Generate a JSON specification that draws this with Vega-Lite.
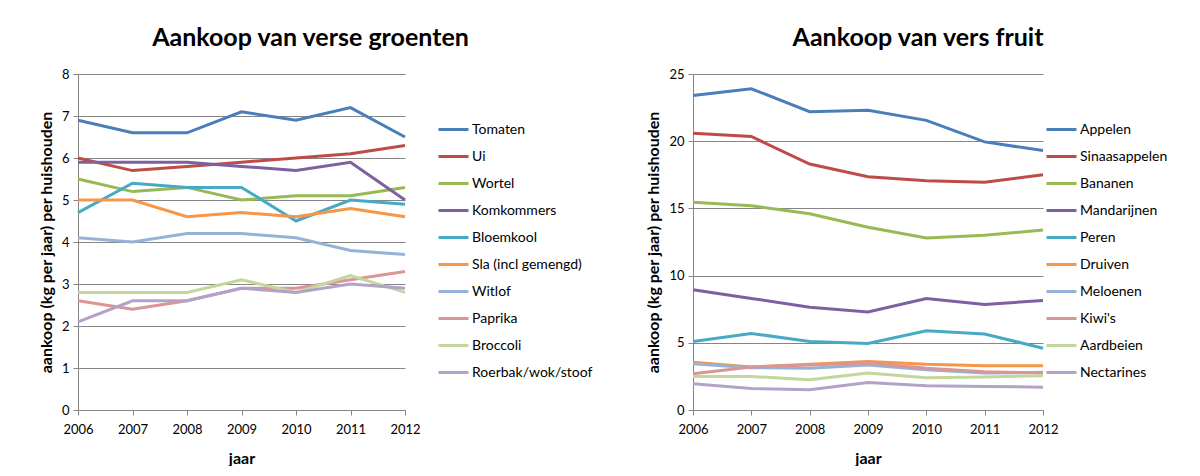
{
"$schema": "https://vega.github.io/schema/vega-lite/v6.json",
"background": "white",
"padding": {"left": 38, "top": 26, "right": 0, "bottom": 0},
"spacing": 52,
"resolve": {"scale": {"color": "independent"}},
"config": {
  "font": "Lato",
  "view": {"stroke": null},
  "axis": {"labelFont": "Lato", "labelFontSize": 13, "labelColor": "#000", "titleFont": "Lato", "titleFontSize": 16, "titleFontWeight": "bold", "titleColor": "#000", "domainColor": "#868686", "tickColor": "#868686", "gridColor": "#868686", "tickSize": 5, "labelFlush": false},
  "title": {"font": "Lato", "fontSize": 25, "fontWeight": "bold", "color": "#000", "anchor": "middle", "offset": 17},
  "legend": {"orient": "none", "labelFont": "Lato", "labelFontSize": 14, "labelColor": "#000", "symbolType": "M-1.25,0H1.25", "symbolSize": 576, "symbolStrokeWidth": 3, "rowPadding": 6, "labelOffset": 5, "padding": 0, "title": null}
},
"datasets": {
  "groente": [
    {"p":"Tomaten","jaar":2006,"kg":6.9},{"p":"Tomaten","jaar":2007,"kg":6.6},{"p":"Tomaten","jaar":2008,"kg":6.6},{"p":"Tomaten","jaar":2009,"kg":7.1},{"p":"Tomaten","jaar":2010,"kg":6.9},{"p":"Tomaten","jaar":2011,"kg":7.2},{"p":"Tomaten","jaar":2012,"kg":6.5},
    {"p":"Ui","jaar":2006,"kg":6.0},{"p":"Ui","jaar":2007,"kg":5.7},{"p":"Ui","jaar":2008,"kg":5.8},{"p":"Ui","jaar":2009,"kg":5.9},{"p":"Ui","jaar":2010,"kg":6.0},{"p":"Ui","jaar":2011,"kg":6.1},{"p":"Ui","jaar":2012,"kg":6.3},
    {"p":"Wortel","jaar":2006,"kg":5.5},{"p":"Wortel","jaar":2007,"kg":5.2},{"p":"Wortel","jaar":2008,"kg":5.3},{"p":"Wortel","jaar":2009,"kg":5.0},{"p":"Wortel","jaar":2010,"kg":5.1},{"p":"Wortel","jaar":2011,"kg":5.1},{"p":"Wortel","jaar":2012,"kg":5.3},
    {"p":"Komkommers","jaar":2006,"kg":5.9},{"p":"Komkommers","jaar":2007,"kg":5.9},{"p":"Komkommers","jaar":2008,"kg":5.9},{"p":"Komkommers","jaar":2009,"kg":5.8},{"p":"Komkommers","jaar":2010,"kg":5.7},{"p":"Komkommers","jaar":2011,"kg":5.9},{"p":"Komkommers","jaar":2012,"kg":5.0},
    {"p":"Bloemkool","jaar":2006,"kg":4.7},{"p":"Bloemkool","jaar":2007,"kg":5.4},{"p":"Bloemkool","jaar":2008,"kg":5.3},{"p":"Bloemkool","jaar":2009,"kg":5.3},{"p":"Bloemkool","jaar":2010,"kg":4.5},{"p":"Bloemkool","jaar":2011,"kg":5.0},{"p":"Bloemkool","jaar":2012,"kg":4.9},
    {"p":"Sla (incl gemengd)","jaar":2006,"kg":5.0},{"p":"Sla (incl gemengd)","jaar":2007,"kg":5.0},{"p":"Sla (incl gemengd)","jaar":2008,"kg":4.6},{"p":"Sla (incl gemengd)","jaar":2009,"kg":4.7},{"p":"Sla (incl gemengd)","jaar":2010,"kg":4.6},{"p":"Sla (incl gemengd)","jaar":2011,"kg":4.8},{"p":"Sla (incl gemengd)","jaar":2012,"kg":4.6},
    {"p":"Witlof","jaar":2006,"kg":4.1},{"p":"Witlof","jaar":2007,"kg":4.0},{"p":"Witlof","jaar":2008,"kg":4.2},{"p":"Witlof","jaar":2009,"kg":4.2},{"p":"Witlof","jaar":2010,"kg":4.1},{"p":"Witlof","jaar":2011,"kg":3.8},{"p":"Witlof","jaar":2012,"kg":3.7},
    {"p":"Paprika","jaar":2006,"kg":2.6},{"p":"Paprika","jaar":2007,"kg":2.4},{"p":"Paprika","jaar":2008,"kg":2.6},{"p":"Paprika","jaar":2009,"kg":2.9},{"p":"Paprika","jaar":2010,"kg":2.9},{"p":"Paprika","jaar":2011,"kg":3.1},{"p":"Paprika","jaar":2012,"kg":3.3},
    {"p":"Broccoli","jaar":2006,"kg":2.8},{"p":"Broccoli","jaar":2007,"kg":2.8},{"p":"Broccoli","jaar":2008,"kg":2.8},{"p":"Broccoli","jaar":2009,"kg":3.1},{"p":"Broccoli","jaar":2010,"kg":2.8},{"p":"Broccoli","jaar":2011,"kg":3.2},{"p":"Broccoli","jaar":2012,"kg":2.8},
    {"p":"Roerbak/wok/stoof","jaar":2006,"kg":2.1},{"p":"Roerbak/wok/stoof","jaar":2007,"kg":2.6},{"p":"Roerbak/wok/stoof","jaar":2008,"kg":2.6},{"p":"Roerbak/wok/stoof","jaar":2009,"kg":2.9},{"p":"Roerbak/wok/stoof","jaar":2010,"kg":2.8},{"p":"Roerbak/wok/stoof","jaar":2011,"kg":3.0},{"p":"Roerbak/wok/stoof","jaar":2012,"kg":2.9}
  ],
  "fruit": [
    {"p":"Appelen","jaar":2006,"kg":23.4},{"p":"Appelen","jaar":2007,"kg":23.9},{"p":"Appelen","jaar":2008,"kg":22.2},{"p":"Appelen","jaar":2009,"kg":22.3},{"p":"Appelen","jaar":2010,"kg":21.55},{"p":"Appelen","jaar":2011,"kg":19.95},{"p":"Appelen","jaar":2012,"kg":19.3},
    {"p":"Sinaasappelen","jaar":2006,"kg":20.6},{"p":"Sinaasappelen","jaar":2007,"kg":20.35},{"p":"Sinaasappelen","jaar":2008,"kg":18.3},{"p":"Sinaasappelen","jaar":2009,"kg":17.35},{"p":"Sinaasappelen","jaar":2010,"kg":17.05},{"p":"Sinaasappelen","jaar":2011,"kg":16.95},{"p":"Sinaasappelen","jaar":2012,"kg":17.5},
    {"p":"Bananen","jaar":2006,"kg":15.45},{"p":"Bananen","jaar":2007,"kg":15.2},{"p":"Bananen","jaar":2008,"kg":14.6},{"p":"Bananen","jaar":2009,"kg":13.6},{"p":"Bananen","jaar":2010,"kg":12.8},{"p":"Bananen","jaar":2011,"kg":13.0},{"p":"Bananen","jaar":2012,"kg":13.4},
    {"p":"Mandarijnen","jaar":2006,"kg":8.95},{"p":"Mandarijnen","jaar":2007,"kg":8.3},{"p":"Mandarijnen","jaar":2008,"kg":7.65},{"p":"Mandarijnen","jaar":2009,"kg":7.3},{"p":"Mandarijnen","jaar":2010,"kg":8.3},{"p":"Mandarijnen","jaar":2011,"kg":7.85},{"p":"Mandarijnen","jaar":2012,"kg":8.15},
    {"p":"Peren","jaar":2006,"kg":5.1},{"p":"Peren","jaar":2007,"kg":5.7},{"p":"Peren","jaar":2008,"kg":5.1},{"p":"Peren","jaar":2009,"kg":4.95},{"p":"Peren","jaar":2010,"kg":5.9},{"p":"Peren","jaar":2011,"kg":5.65},{"p":"Peren","jaar":2012,"kg":4.6},
    {"p":"Druiven","jaar":2006,"kg":3.55},{"p":"Druiven","jaar":2007,"kg":3.2},{"p":"Druiven","jaar":2008,"kg":3.4},{"p":"Druiven","jaar":2009,"kg":3.6},{"p":"Druiven","jaar":2010,"kg":3.4},{"p":"Druiven","jaar":2011,"kg":3.3},{"p":"Druiven","jaar":2012,"kg":3.3},
    {"p":"Meloenen","jaar":2006,"kg":3.45},{"p":"Meloenen","jaar":2007,"kg":3.15},{"p":"Meloenen","jaar":2008,"kg":3.1},{"p":"Meloenen","jaar":2009,"kg":3.35},{"p":"Meloenen","jaar":2010,"kg":3.0},{"p":"Meloenen","jaar":2011,"kg":2.75},{"p":"Meloenen","jaar":2012,"kg":2.8},
    {"p":"Kiwi's","jaar":2006,"kg":2.7},{"p":"Kiwi's","jaar":2007,"kg":3.2},{"p":"Kiwi's","jaar":2008,"kg":3.35},{"p":"Kiwi's","jaar":2009,"kg":3.5},{"p":"Kiwi's","jaar":2010,"kg":3.1},{"p":"Kiwi's","jaar":2011,"kg":2.85},{"p":"Kiwi's","jaar":2012,"kg":2.75},
    {"p":"Aardbeien","jaar":2006,"kg":2.5},{"p":"Aardbeien","jaar":2007,"kg":2.5},{"p":"Aardbeien","jaar":2008,"kg":2.25},{"p":"Aardbeien","jaar":2009,"kg":2.75},{"p":"Aardbeien","jaar":2010,"kg":2.4},{"p":"Aardbeien","jaar":2011,"kg":2.45},{"p":"Aardbeien","jaar":2012,"kg":2.55},
    {"p":"Nectarines","jaar":2006,"kg":1.95},{"p":"Nectarines","jaar":2007,"kg":1.6},{"p":"Nectarines","jaar":2008,"kg":1.5},{"p":"Nectarines","jaar":2009,"kg":2.05},{"p":"Nectarines","jaar":2010,"kg":1.8},{"p":"Nectarines","jaar":2011,"kg":1.75},{"p":"Nectarines","jaar":2012,"kg":1.7}
  ]
},
"hconcat": [
  {
    "width": 327, "height": 336,
    "title": {"text": "Aankoop van verse groenten", "dx": 69},
    "data": {"name": "groente"},
    "mark": {"type": "line", "strokeWidth": 3},
    "encoding": {
      "x": {"field": "jaar", "type": "quantitative", "scale": {"domain": [2006, 2012], "nice": false, "zero": false}, "axis": {"values": [2006,2007,2008,2009,2010,2011,2012], "format": "d", "grid": false, "title": "jaar", "labelPadding": 8, "titlePadding": 14}},
      "y": {"field": "kg", "type": "quantitative", "scale": {"domain": [0, 8], "nice": false}, "axis": {"values": [0,1,2,3,4,5,6,7,8], "title": "aankoop (kg per jaar) per huishouden", "titlePadding": 7, "labelPadding": 4}},
      "color": {"field": "p", "type": "nominal", "scale": {"domain": ["Tomaten","Ui","Wortel","Komkommers","Bloemkool","Sla (incl gemengd)","Witlof","Paprika","Broccoli","Roerbak/wok/stoof"], "range": ["#4A7EBB","#BE4B48","#98B954","#7D60A0","#46AAC5","#F79646","#95B3D7","#D99694","#C3D69B","#B3A2C7"]}, "legend": {"legendX": 362, "legendY": 42}}
    }
  },
  {
    "width": 350, "height": 336,
    "title": {"text": "Aankoop van vers fruit", "dx": 50},
    "data": {"name": "fruit"},
    "mark": {"type": "line", "strokeWidth": 3},
    "encoding": {
      "x": {"field": "jaar", "type": "quantitative", "scale": {"domain": [2006, 2012], "nice": false, "zero": false}, "axis": {"values": [2006,2007,2008,2009,2010,2011,2012], "format": "d", "grid": false, "title": "jaar", "labelPadding": 8, "titlePadding": 14}},
      "y": {"field": "kg", "type": "quantitative", "scale": {"domain": [0, 25], "nice": false}, "axis": {"values": [0,5,10,15,20,25], "title": "aankoop (kg per jaar) per huishouden", "titlePadding": 7, "labelPadding": 4}},
      "color": {"field": "p", "type": "nominal", "scale": {"domain": ["Appelen","Sinaasappelen","Bananen","Mandarijnen","Peren","Druiven","Meloenen","Kiwi's","Aardbeien","Nectarines"], "range": ["#4A7EBB","#BE4B48","#98B954","#7D60A0","#46AAC5","#F79646","#95B3D7","#D99694","#C3D69B","#B3A2C7"]}, "legend": {"legendX": 355, "legendY": 42}}
    }
  }
]
}
